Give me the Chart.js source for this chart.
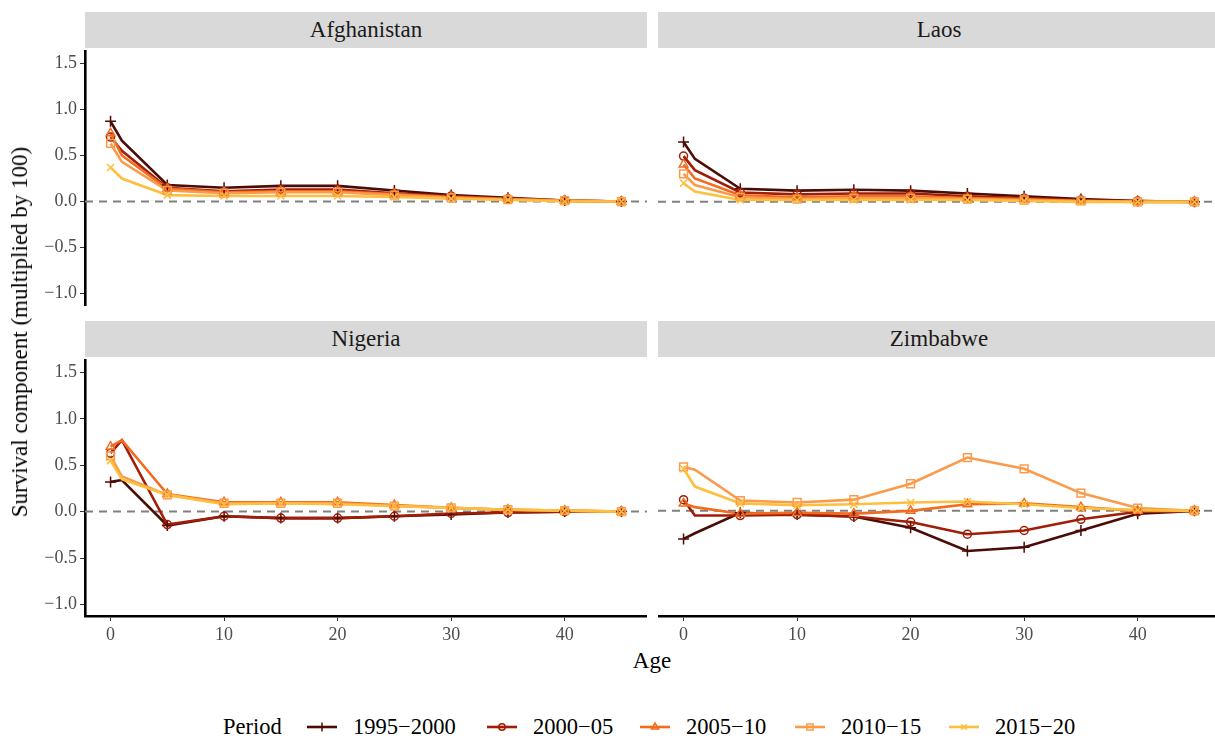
<!DOCTYPE html>
<html>
<head>
<meta charset="utf-8">
<script src="https://cdn.jsdelivr.net/npm/chart.js@4.4.1/dist/chart.umd.min.js"></script>
<style>
  html, body { margin: 0; padding: 0; background: #ffffff; }
  body { position: relative; width: 1215px; height: 740px; overflow: hidden;
         font-family: 'Liberation Serif', 'Times New Roman', serif; }
  .strip { position: absolute; background: #d9d9d9; color: #1a1a1a; font-size: 23px;
           display: flex; align-items: center; justify-content: center; }
  .panel { position: absolute; }
  .title { position: absolute; color: #000; font-size: 23px; white-space: nowrap; }
  .legend-text { position: absolute; font-size: 22.5px; color: #000; white-space: nowrap;
                 line-height: 26px; top: 714px; }
  .legend-key { position: absolute; top: 714px; }
</style>
</head>
<body>

<div class="strip" style="left:85px; top:12px; width:562px; height:36px;">Afghanistan</div>
<div class="strip" style="left:658px; top:12px; width:562px; height:36px;">Laos</div>
<div class="strip" style="left:85px; top:321px; width:562px; height:36px;">Nigeria</div>
<div class="strip" style="left:658px; top:321px; width:562px; height:36px;">Zimbabwe</div>

<canvas id="afg" class="panel" style="left:0px; top:38px;" width="647" height="281"></canvas>
<canvas id="lao" class="panel" style="left:658px; top:38px;" width="562" height="281"></canvas>
<canvas id="nga" class="panel" style="left:0px; top:347px;" width="647" height="300"></canvas>
<canvas id="zwe" class="panel" style="left:658px; top:347px;" width="562" height="300"></canvas>

<div class="title" id="ytitle" style="left:20px; top:332px; transform: translate(-50%, -50%) rotate(-90deg);">Survival component (multiplied by 100)</div>
<div class="title" style="left:652px; top:661px; transform: translate(-50%, -50%);">Age</div>

<div id="legend"></div>

<script>
// Ages at which the survival component is reported
const ages = [0, 1, 5, 10, 15, 20, 25, 30, 35, 40, 45];
const periods = ['1995\u22122000', '2000\u221205', '2005\u221210', '2010\u221215', '2015\u221220'];
const yTicks = [-1.0, -0.5, 0.0, 0.5, 1.0, 1.5];
const xTicks = [0, 10, 20, 30, 40];

// Afghanistan
const afg1995 = [0.87, 0.66, 0.18, 0.15, 0.17, 0.17, 0.12, 0.07, 0.04, 0.01, 0.00];
const afg2000 = [0.70, 0.55, 0.15, 0.11, 0.13, 0.13, 0.09, 0.06, 0.03, 0.01, 0.00];
const afg2005 = [0.74, 0.50, 0.14, 0.10, 0.11, 0.11, 0.08, 0.05, 0.03, 0.01, 0.00];
const afg2010 = [0.63, 0.43, 0.12, 0.09, 0.10, 0.10, 0.07, 0.04, 0.02, 0.01, 0.00];
const afg2015 = [0.37, 0.25, 0.07, 0.06, 0.06, 0.06, 0.05, 0.03, 0.02, 0.00, 0.00];

// Laos
const lao1995 = [0.64, 0.46, 0.14, 0.12, 0.13, 0.12, 0.09, 0.06, 0.03, 0.01, 0.00];
const lao2000 = [0.49, 0.34, 0.10, 0.08, 0.09, 0.09, 0.06, 0.04, 0.02, 0.01, 0.00];
const lao2005 = [0.40, 0.25, 0.07, 0.05, 0.06, 0.06, 0.04, 0.03, 0.01, 0.00, 0.00];
const lao2010 = [0.30, 0.18, 0.05, 0.03, 0.04, 0.04, 0.03, 0.02, 0.01, 0.00, 0.00];
const lao2015 = [0.20, 0.11, 0.02, 0.02, 0.02, 0.02, 0.02, 0.01, 0.00, 0.00, 0.00];

// Nigeria
const nga1995 = [0.32, 0.34, -0.15, -0.05, -0.07, -0.07, -0.05, -0.03, -0.01, 0.00, 0.00];
const nga2000 = [0.63, 0.77, -0.14, -0.05, -0.07, -0.07, -0.05, -0.02, -0.01, 0.00, 0.00];
const nga2005 = [0.70, 0.77, 0.19, 0.10, 0.10, 0.10, 0.07, 0.04, 0.02, 0.01, 0.00];
const nga2010 = [0.60, 0.38, 0.18, 0.09, 0.09, 0.09, 0.06, 0.04, 0.02, 0.01, 0.00];
const nga2015 = [0.55, 0.35, 0.18, 0.08, 0.09, 0.08, 0.06, 0.04, 0.02, 0.01, 0.00];

// Zimbabwe
const zwe1995 = [-0.30, -0.24, -0.02, -0.04, -0.06, -0.18, -0.43, -0.39, -0.21, -0.03, 0.00];
const zwe2000 = [0.12, -0.05, -0.05, -0.04, -0.06, -0.12, -0.25, -0.21, -0.09, -0.01, 0.00];
const zwe2005 = [0.08, 0.04, -0.03, -0.02, -0.03, 0.00, 0.07, 0.08, 0.04, 0.00, 0.00];
const zwe2010 = [0.47, 0.44, 0.11, 0.09, 0.12, 0.29, 0.57, 0.45, 0.19, 0.03, 0.00];
const zwe2015 = [0.45, 0.26, 0.08, 0.06, 0.07, 0.09, 0.10, 0.07, 0.03, 0.01, 0.00];

// Per-period styling
const colors = ['#4b0c06', '#a11d07', '#f26b1e', '#fb9a4a', '#fdbf3e'];
const shapes = ['cross', 'circle', 'triangle', 'rect', 'crossRot'];
const radii  = [5.5, 4, 5, 5.5, 5];

const FONT = "'Liberation Serif', 'Times New Roman', serif";
Chart.defaults.font.family = FONT;

// dashed reference line at zero, drawn under the series
const zeroLine = {
  id: 'zeroLine',
  beforeDatasetsDraw(chart) {
    const { ctx, chartArea, scales } = chart;
    const y = scales.y.getPixelForValue(0);
    ctx.save();
    ctx.strokeStyle = '#808080';
    ctx.lineWidth = 2;
    ctx.setLineDash([8, 6]);
    ctx.beginPath();
    ctx.moveTo(chartArea.left, y);
    ctx.lineTo(chartArea.right, y);
    ctx.stroke();
    ctx.restore();
  }
};

function fmtY(v) {
  const s = Math.abs(v).toFixed(1);
  return v < 0 ? '\u2212' + s : s;
}

function buildPanel(id, series, showX, showY) {
  const datasets = [];
  // lines first (higher order => drawn underneath), then markers on top
  series.forEach((vals, k) => {
    datasets.push({
      data: ages.map((a, i) => ({ x: a, y: vals[i] })),
      borderColor: colors[k],
      borderWidth: 2.6,
      pointRadius: 0,
      fill: false,
      tension: 0,
      clip: false,
      order: 20 - k
    });
  });
  series.forEach((vals, k) => {
    datasets.push({
      data: ages.map((a, i) => ({ x: a, y: vals[i] })),
      showLine: false,
      borderColor: colors[k],
      backgroundColor: 'rgba(0,0,0,0)',
      pointStyle: shapes[k],
      pointRadius: (c) => (ages[c.dataIndex] % 5 === 0 ? radii[k] : 0),
      pointBorderWidth: 1.5,
      pointBorderColor: colors[k],
      pointBackgroundColor: 'rgba(0,0,0,0)',
      clip: false,
      order: 10 - k
    });
  });

  return new Chart(document.getElementById(id), {
    type: 'line',
    data: { datasets },
    options: {
      responsive: false,
      animation: false,
      events: [],
      layout: { autoPadding: false,
                padding: { top: 12, bottom: showX ? 0 : 12, left: 0, right: 0 } },
      plugins: { legend: { display: false }, tooltip: { enabled: false } },
      scales: {
        x: {
          type: 'linear',
          min: -2.25,
          max: 47.25,
          display: showX,
          afterBuildTicks: (s) => { s.ticks = xTicks.map(v => ({ value: v })); },
          afterFit: (s) => { s.height = showX ? 31 : 0; },
          grid: { display: true, drawOnChartArea: false, drawTicks: true, tickLength: 5,
                  tickColor: '#333333', tickWidth: 1 },
          border: { display: true, color: '#000000', width: 2.6 },
          ticks: { color: '#4d4d4d', font: { size: 18, family: FONT }, padding: 3,
                   maxRotation: 0, callback: (v) => String(v) }
        },
        y: {
          type: 'linear',
          min: -1.125,
          max: 1.625,
          display: showY,
          afterBuildTicks: (s) => { s.ticks = yTicks.map(v => ({ value: v })); },
          afterFit: (s) => { s.width = showY ? 85 : 0; },
          grid: { display: true, drawOnChartArea: false, drawTicks: true, tickLength: 5,
                  tickColor: '#333333', tickWidth: 1 },
          border: { display: true, color: '#000000', width: 2.6 },
          ticks: { color: '#4d4d4d', font: { size: 18, family: FONT }, padding: 3,
                   callback: (v) => fmtY(v) }
        }
      }
    },
    plugins: [zeroLine]
  });
}

buildPanel('afg', [afg1995, afg2000, afg2005, afg2010, afg2015], false, true);
buildPanel('lao', [lao1995, lao2000, lao2005, lao2010, lao2015], false, false);
buildPanel('nga', [nga1995, nga2000, nga2005, nga2010, nga2015], true, true);
buildPanel('zwe', [zwe1995, zwe2000, zwe2005, zwe2010, zwe2015], true, false);

// Legend: title, then one key (line + marker) and label per period
function drawMarker(ctx, shape, x, y, r) {
  ctx.beginPath();
  if (shape === 'cross') {
    ctx.moveTo(x - r, y); ctx.lineTo(x + r, y);
    ctx.moveTo(x, y - r); ctx.lineTo(x, y + r);
  } else if (shape === 'crossRot') {
    const d = r * Math.SQRT1_2;
    ctx.moveTo(x - d, y - d); ctx.lineTo(x + d, y + d);
    ctx.moveTo(x + d, y - d); ctx.lineTo(x - d, y + d);
  } else if (shape === 'circle') {
    ctx.arc(x, y, r, 0, Math.PI * 2);
  } else if (shape === 'triangle') {
    const h = r * 1.5;
    ctx.moveTo(x, y - h * 2 / 3);
    ctx.lineTo(x + r * 0.9, y + h / 3);
    ctx.lineTo(x - r * 0.9, y + h / 3);
    ctx.closePath();
  } else if (shape === 'rect') {
    const d = r * Math.SQRT1_2;
    ctx.rect(x - d, y - d, 2 * d, 2 * d);
  }
  ctx.stroke();
}

const legend = document.getElementById('legend');
const legendTitle = document.createElement('div');
legendTitle.className = 'legend-text';
legendTitle.style.left = '223px';
legendTitle.textContent = 'Period';
legend.appendChild(legendTitle);

const keyLeft = [306, 486, 639, 794, 948];
periods.forEach((p, k) => {
  const c = document.createElement('canvas');
  c.className = 'legend-key';
  c.width = 32; c.height = 26;
  c.style.left = keyLeft[k] + 'px';
  legend.appendChild(c);
  const ctx = c.getContext('2d');
  ctx.strokeStyle = colors[k];
  ctx.lineWidth = 2.6;
  ctx.beginPath(); ctx.moveTo(1, 13); ctx.lineTo(31, 13); ctx.stroke();
  ctx.lineWidth = 1.5;
  drawMarker(ctx, shapes[k], 16, 13, radii[k] * 0.8);

  const t = document.createElement('div');
  t.className = 'legend-text';
  t.style.left = (keyLeft[k] + 47) + 'px';
  t.textContent = p;
  legend.appendChild(t);
});
</script>
</body>
</html>
